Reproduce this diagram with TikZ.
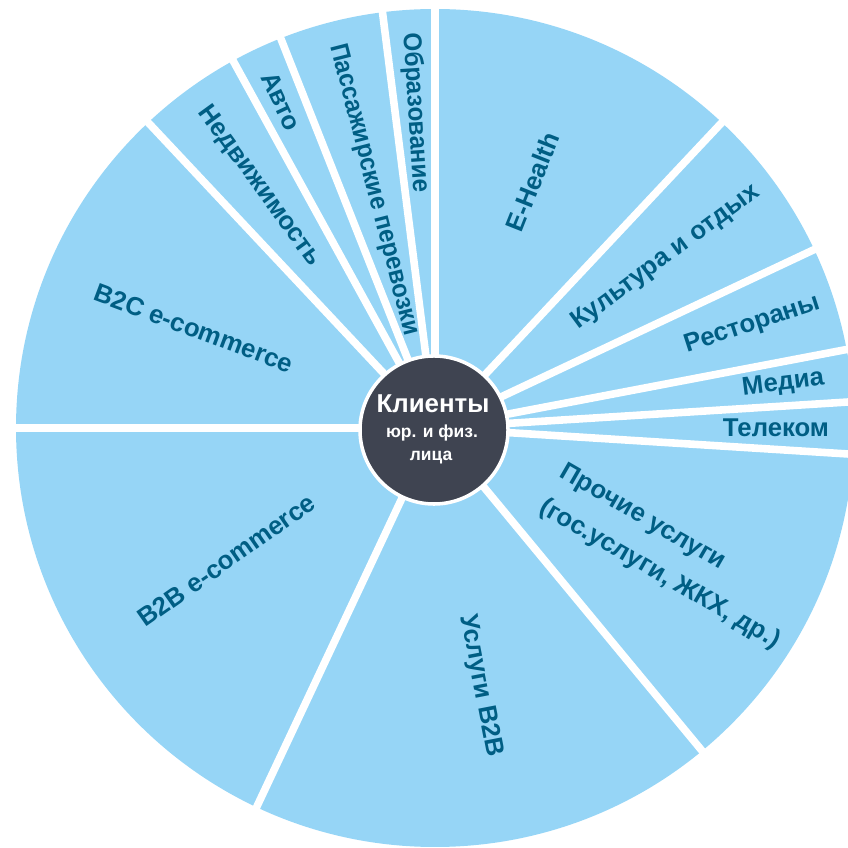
\documentclass[tikz,border=0pt]{standalone}
\usepackage{fontspec}
\setmainfont{Liberation Sans}
\definecolor{slicefill}{RGB}{150,213,246}
\definecolor{labc}{RGB}{0,94,132}
\definecolor{hubc}{RGB}{63,68,81}
\begin{document}
\begin{tikzpicture}[x=0.025cm,y=0.025cm,
  slice/.style={fill=slicefill},
  sepline/.style={draw=white,line width=5.4pt},
  lab/.style={text=labc,font=\fontsize{18.3}{21}\selectfont\bfseries,inner sep=0pt},
  hubtxt/.style={text=white,inner sep=0pt,anchor=base},
]
\useasboundingbox (0,0) rectangle (848,848);
\clip (0,0) rectangle (848,848);
\coordinate (C) at (435,420);
\fill[slice] (C) circle[radius=419];
\foreach \a in {90,46.8,25.2,10.8,3.6,-3.6,-50.4,-115.2,180,133.2,118.8,111.6,97.2}
  \draw[sepline] (C) -- ([shift={(\a:440)}]C);
% hub
\node[circle,fill=hubc,draw=white,line width=2.5pt,minimum size=3.7cm,inner sep=0pt] (hub) at (434,418) {};
\node[hubtxt,font=\fontsize{18.4}{20}\selectfont\bfseries] (h1) at (433,435) {Клиенты};
\node[hubtxt,font=\fontsize{12.4}{14}\selectfont\bfseries] (h2) at (432,410) {юр. и физ.};
\node[hubtxt,font=\fontsize{12.4}{14}\selectfont\bfseries] (h3) at (431,387) {лица};
% labels
\node[lab,rotate=68.4] (ehealth) at ([shift={(68.4:265)}]C) {E-Health};
\node[lab,rotate=36.5] (kult) at ([shift={(36.5:287)}]C) {Культура и отдых};
\node[lab,rotate=18] (rest) at ([shift={(18:334)}]C) {Рестораны};
\node[lab,rotate=7.2] (media) at ([shift={(7.2:351)}]C) {Медиа};
\node[lab,rotate=0] (telecom) at ([shift={(0:341)}]C) {Телеком};
\node[lab,rotate=-30,align=left,font=\fontsize{18.3}{29}\selectfont\bfseries] (proch) at ([shift={(-28.8:268)}]C) {Прочие услуги\\(гос.услуги, ЖКХ, др.)};
\node[lab,rotate=-79] (b2bserv) at ([shift={(-80:262)}]C) {Услуги B2B};
\node[lab,rotate=35] (b2b) at ([shift={(-147.6:247)}]C) {B2B e-commerce};
\node[lab,rotate=-20.5] (b2c) at ([shift={(157.5:261)}]C) {B2C e-commerce};
\node[lab,rotate=-54] (nedv) at ([shift={(126:299)}]C) {Недвижимость};
\node[lab,rotate=-64.8] (avto) at ([shift={(115.2:361)}]C) {Авто};
\node[lab,rotate=-75.6,xscale=0.93] (pass) at ([shift={(104.4:246)}]C) {Пассажирские перевозки};
\node[lab,rotate=-86.4,xscale=0.94] (obraz) at ([shift={(93.6:316)}]C) {Образование};
\end{tikzpicture}
\end{document}
